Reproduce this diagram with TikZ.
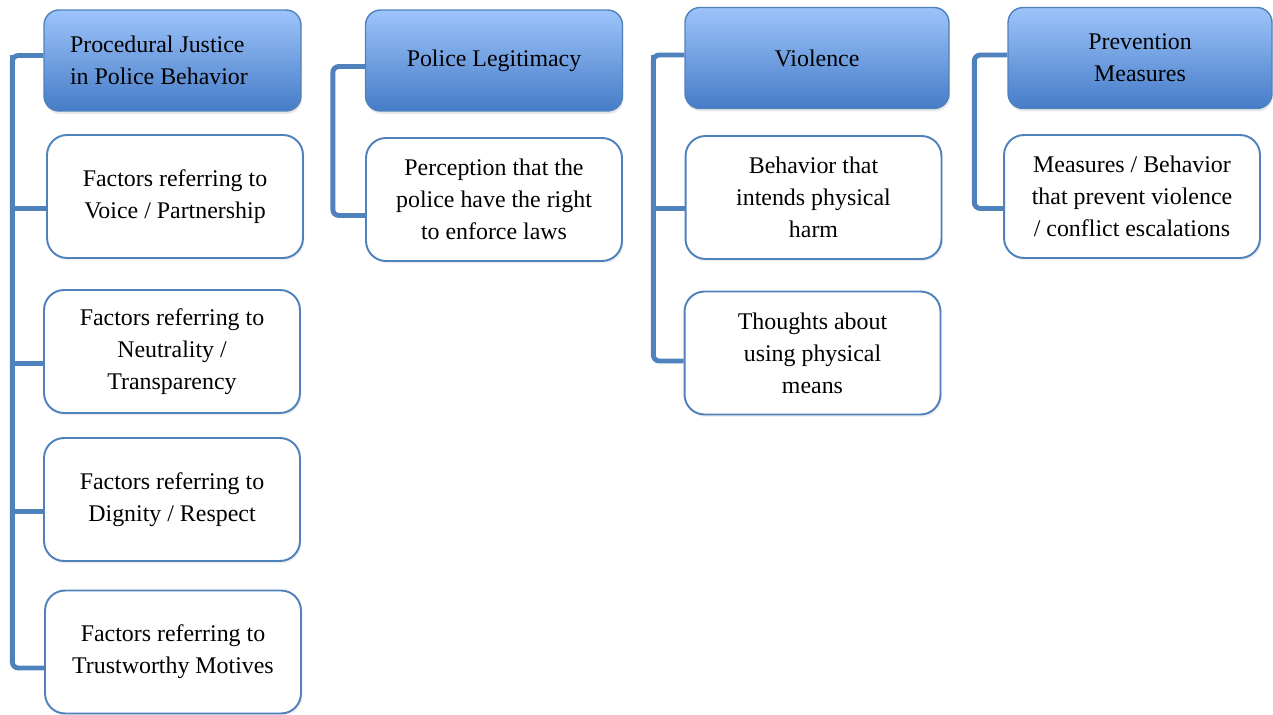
\documentclass[tikz,border=0pt]{standalone}
\usepackage{fontspec}
\setmainfont{Liberation Serif}
\usetikzlibrary{shadows}

\definecolor{barblue}{RGB}{79,129,189}
\definecolor{headtop}{RGB}{157,196,250}
\definecolor{headbot}{RGB}{70,124,200}

\tikzset{
  boxfont/.style={font=\fontsize{13.6}{18.2}\selectfont},
  head/.style={draw=barblue, line width=0.8pt, rounded corners=0.3cm,
    top color=headtop, bottom color=headbot, inner sep=0pt,
    minimum width=5.14cm, minimum height=2.02cm, align=center, boxfont,
    drop shadow={opacity=0.18, shadow xshift=0.02cm, shadow yshift=-0.06cm}},
  item/.style={draw=barblue, line width=1.1pt, fill=white, rounded corners=0.4cm,
    inner sep=0pt, minimum width=5.12cm, minimum height=2.46cm, align=center, boxfont,
    drop shadow={opacity=0.12, shadow xshift=0.03cm, shadow yshift=-0.05cm}},
  link/.style={draw=barblue, line width=2.8pt, rounded corners=0.12cm}
}

\begin{document}
\begin{tikzpicture}[x=0.02cm, y=-0.02cm]
\useasboundingbox (0,0) rectangle (1273,715);

% Procedural justice column
\node[head, text width=4.1cm, align=flush left] (pj) at (172.5,60.5) {Procedural Justice\\in Police Behavior};
\node[item] (pjA) at (175,196.5) {Factors referring to\\Voice / Partnership};
\node[item] (pjB) at (172,351.5) {Factors referring to\\Neutrality /\\Transparency};
\node[item] (pjC) at (172,499.5) {Factors referring to\\Dignity / Respect};
\node[item] (pjD) at (173,652) {Factors referring to\\Trustworthy Motives};

% Legitimacy column
\node[head] (pl) at (494,60.5) {Police Legitimacy};
\node[item] (plA) at (494,199.5) {Perception that the\\police have the right\\to enforce laws};

% Violence column
\node[head, minimum width=5.28cm] (vio) at (817,58) {Violence};
\node[item] (vioA) at (813.5,197.5) {Behavior that\\intends physical\\harm};
\node[item] (vioB) at (812.5,353) {Thoughts about\\using physical\\means};

% Prevention column
\node[head, minimum width=5.28cm] (prev) at (1140,58) {Prevention\\Measures};
\node[item] (prevA) at (1132,196.5) {Measures / Behavior\\that prevent violence\\/ conflict escalations};

% Brackets
\draw[link] ([yshift=0.1cm]pj.west) -- ++(-31,0) coordinate (pjbar) |- ([yshift=-0.32cm]pjD.west);
\foreach \n in {pjA,pjB,pjC}
  \draw[link, sharp corners] ([yshift=-0.24cm]\n.west) -| (pjbar);

\draw[link] ([yshift=-0.12cm]pl.west) -- ++(-32,0) |- ([yshift=-0.32cm]plA.west);

\draw[link] ([yshift=0.06cm]vio.west) -- ++(-31,0) coordinate (viobar) |- ([yshift=-0.16cm]vioB.west);
\draw[link, sharp corners] ([yshift=-0.22cm]vioA.west) -| (viobar);

\draw[link] ([yshift=0.06cm]prev.west) -- ++(-33,0) |- ([yshift=-0.24cm]prevA.west);
\end{tikzpicture}
\end{document}
